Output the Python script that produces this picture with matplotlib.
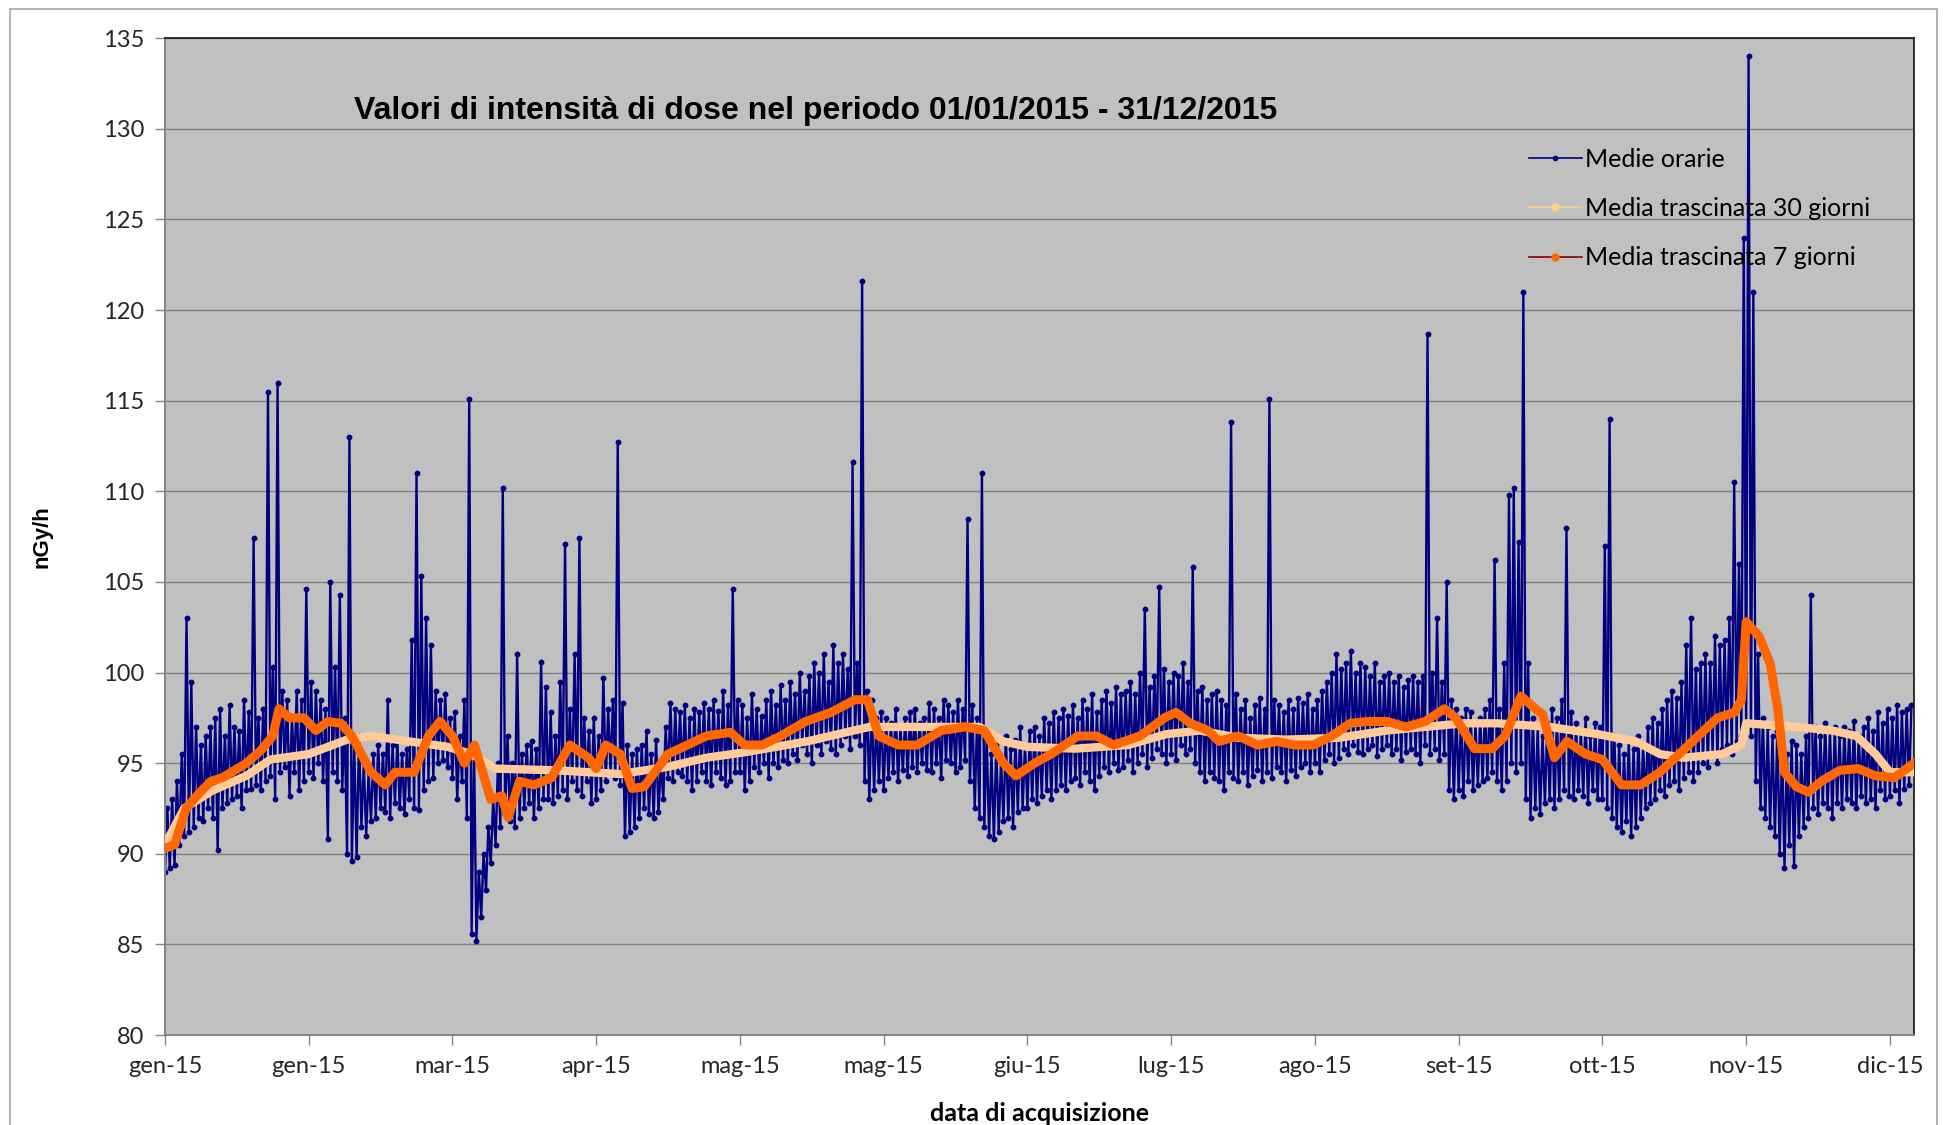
import numpy as np
import matplotlib
matplotlib.use("Agg")
import matplotlib.pyplot as plt
from matplotlib.lines import Line2D
from matplotlib.patches import Rectangle

# hourly averages, summarised per day as (lowest, highest) values, day 0 = 01/01/2015
daily_low = [
    89.0, 89.2, 89.4, 90.5, 91.0, 91.2, 91.5, 92.0, 91.8, 92.5,
    92.0, 90.2, 92.5, 92.8, 93.0, 93.2, 92.5, 93.5, 93.6, 93.8,
    93.5, 94.0, 94.3, 93.0, 94.5, 94.8, 93.2, 94.5, 93.5, 94.0,
    94.5, 94.2, 95.0, 94.0, 90.8, 94.5, 94.0, 93.5, 90.0, 89.6,
    89.8, 91.5, 91.0, 91.8, 92.0, 92.5, 92.3, 92.0, 92.8, 92.5,
    92.2, 93.0, 92.5, 92.4, 93.5, 94.0, 94.2, 95.0, 95.2, 94.8,
    94.2, 93.0, 94.0, 92.0, 85.6, 85.2, 86.5, 88.0, 89.5, 90.5,
    91.5, 92.2, 91.8, 91.5, 92.0, 92.5, 92.8, 92.0, 92.5, 93.0,
    93.0, 92.8, 93.2, 93.5, 93.0, 94.0, 93.5, 93.2, 94.0, 92.8,
    93.0, 93.5, 94.0, 94.5, 94.2, 93.8, 91.0, 91.2, 91.5, 92.0,
    92.5, 92.2, 92.0, 92.3, 93.0, 94.2, 94.0, 94.5, 94.3, 94.0,
    93.5, 94.0, 94.5, 94.0, 93.8, 94.5, 94.2, 93.8, 94.0, 94.5,
    94.5, 93.5, 94.0, 94.8, 94.5, 95.0, 94.2, 95.0, 94.8, 95.2,
    95.0, 95.5, 95.2, 96.0, 95.5, 95.0, 96.0, 95.5, 96.2, 95.8,
    95.5, 96.0, 96.5, 95.8, 96.5, 96.0, 94.0, 93.0, 93.5, 94.0,
    93.5, 94.2, 94.5, 94.0, 94.6, 94.3, 94.8, 94.5, 95.0, 94.6,
    94.5, 95.0, 94.2, 95.2, 95.0, 94.5, 94.8, 95.2, 94.0, 92.5,
    92.0, 91.5, 91.0, 90.8, 91.2, 91.8, 92.0, 91.5, 92.3, 92.5,
    92.5, 93.0, 92.8, 93.2, 93.5, 93.0, 93.5, 93.8, 93.5, 94.0,
    94.2, 93.8, 94.5, 94.0, 93.5, 94.3, 94.8, 94.5, 95.0, 94.6,
    94.8, 95.2, 94.5, 95.0, 95.5, 94.8, 95.3, 95.8, 95.5, 95.0,
    95.5, 95.2, 96.0, 95.5, 95.8, 95.0, 94.5, 94.0, 94.5, 94.2,
    94.0, 93.5, 94.5, 94.2, 94.0, 94.5, 93.8, 94.3, 94.6, 94.0,
    94.5, 94.2, 94.8, 94.5, 94.0, 94.6, 94.3, 94.8, 95.0, 94.5,
    95.0, 94.5, 95.2, 95.5, 95.0, 95.3, 95.8, 95.5, 96.0, 95.6,
    95.5, 95.8, 96.0, 95.4, 95.8, 96.0, 95.5, 95.8, 95.2, 95.6,
    95.8, 95.5, 95.0, 96.0, 95.5, 95.8, 95.2, 95.5, 93.5, 93.0,
    93.5, 93.2, 94.0, 93.5, 93.8, 94.0, 94.2, 94.5, 94.0, 93.5,
    94.0, 95.0, 94.5, 95.0, 93.0, 92.0, 92.5, 92.2, 92.8, 93.0,
    92.5, 93.0, 93.5, 93.2, 93.0, 93.5, 93.2, 92.8, 93.5, 93.0,
    93.0, 92.5, 92.0, 91.5, 91.2, 91.8, 91.0, 91.5, 92.0, 92.5,
    92.8, 93.0, 93.5, 93.2, 93.8, 94.0, 93.5, 94.2, 94.5, 94.0,
    94.5, 95.0, 94.8, 95.5, 95.0, 95.8, 96.0, 95.5, 96.2, 96.5,
    97.0, 96.5, 94.0, 92.5, 92.0, 91.5, 91.0, 90.0, 89.2, 90.5,
    89.3, 91.0, 91.5, 92.0, 92.5, 92.2, 92.8, 92.5, 92.0, 92.8,
    92.5, 93.0, 92.8, 92.5, 93.2, 92.8, 93.0, 92.5, 93.5, 93.0,
    93.2, 93.5, 92.8, 93.6, 93.8,
]
daily_high = [
    92.5, 93.0, 94.0, 95.5, 103.0, 99.5, 97.0, 96.0, 96.5, 97.0,
    97.5, 98.0, 96.5, 98.2, 97.0, 96.8, 98.5, 97.8, 107.4, 97.5,
    98.0, 115.5, 100.3, 116.0, 99.0, 98.5, 97.5, 99.0, 98.5, 104.6,
    99.5, 99.0, 98.5, 98.0, 105.0, 100.3, 104.3, 97.5, 113.0, 96.0,
    96.5, 95.0, 94.5, 95.5, 96.0, 95.5, 98.5, 96.0, 96.3, 95.5,
    95.8, 101.8, 111.0, 105.3, 103.0, 101.5, 99.0, 98.5, 98.8, 97.5,
    97.8, 96.5, 98.5, 115.1, 96.0, 89.0, 90.0, 91.5, 93.0, 95.0,
    110.2, 96.5, 95.0, 101.0, 95.5, 96.0, 96.2, 95.8, 100.6, 99.2,
    97.8, 96.5, 99.5, 107.1, 98.0, 101.0, 107.4, 97.5, 96.8, 97.5,
    96.5, 99.7, 98.0, 98.5, 112.7, 98.3, 96.0, 95.5, 95.8, 96.0,
    96.8, 95.5, 96.3, 95.0, 97.0, 98.3, 98.0, 97.8, 98.2, 97.5,
    98.0, 97.8, 98.3, 98.0, 98.5, 97.9, 99.0, 98.2, 104.6, 98.5,
    98.2, 97.5, 98.8, 98.0, 97.6, 98.5, 99.0, 98.2, 99.3, 98.5,
    99.5, 98.8, 100.0, 99.0, 99.8, 100.5, 100.0, 101.0, 99.5, 101.5,
    100.5, 101.0, 100.2, 111.6, 100.5, 121.6, 99.0, 98.5, 97.5, 97.8,
    97.5, 97.2, 98.0, 97.0, 97.5, 97.8, 98.0, 97.2, 97.5, 98.3,
    98.0, 97.5, 98.5, 98.2, 97.8, 98.5, 98.0, 108.5, 98.2, 97.5,
    111.0, 96.5, 95.5, 96.0, 95.2, 96.5, 95.8, 96.3, 97.0, 96.0,
    96.8, 97.0, 96.5, 97.5, 97.2, 97.8, 97.5, 98.0, 97.6, 98.2,
    97.5, 98.5, 98.0, 98.8, 97.8, 98.5, 99.0, 98.3, 99.2, 98.8,
    99.0, 99.5, 98.8, 100.0, 103.5, 99.2, 99.8, 104.7, 100.2, 99.5,
    100.0, 99.8, 100.5, 99.5, 105.8, 99.0, 99.2, 98.5, 98.8, 99.0,
    98.5, 98.2, 113.8, 98.8, 98.0, 98.5, 97.5, 98.2, 98.6, 98.0,
    115.1, 98.5, 98.2, 97.8, 98.5, 98.0, 98.6, 98.3, 98.8, 98.0,
    98.5, 99.0, 99.5, 100.0, 101.0, 100.2, 100.5, 101.2, 100.0, 100.5,
    100.3, 99.8, 100.5, 99.5, 99.8, 100.0, 99.5, 99.8, 99.2, 99.6,
    99.8, 99.5, 99.8, 118.7, 100.0, 103.0, 99.5, 105.0, 98.5, 98.0,
    97.5, 98.0, 97.8, 97.2, 97.5, 98.0, 98.5, 106.2, 98.0, 100.5,
    109.8, 110.2, 107.2, 121.0, 100.5, 97.5, 97.0, 96.5, 97.2, 98.0,
    97.5, 98.5, 108.0, 97.8, 97.2, 96.8, 97.5, 96.5, 97.2, 97.0,
    107.0, 114.0, 96.5, 96.0, 95.5, 96.2, 95.8, 96.5, 96.0, 97.0,
    97.5, 97.2, 98.0, 98.5, 99.0, 98.6, 99.5, 101.5, 103.0, 100.2,
    100.5, 101.0, 100.5, 102.0, 101.5, 101.8, 103.0, 110.5, 106.0, 124.0,
    134.0, 121.0, 101.0, 97.5, 97.0, 96.5, 96.8, 96.0, 95.5, 96.2,
    96.0, 95.5, 96.5, 104.3, 97.0, 96.5, 97.2, 96.8, 97.0, 96.5,
    97.0, 96.8, 97.3, 96.5, 97.0, 97.5, 96.8, 97.8, 97.2, 98.0,
    97.5, 98.2, 97.8, 98.0, 98.2,
]

# 7-day moving average (day, value)
ma7_day = [0, 2, 4.4, 7, 9.6, 12, 17, 20, 22.5, 23.8, 26, 29, 31.5, 34, 36.7, 39,
           43, 46, 48, 52, 55, 57.4, 60, 62.5, 64.6, 68, 70.3, 71.6, 74, 77, 80.7,
           84.5, 88.4, 90, 92, 95, 97.5, 100, 105, 109, 113, 118, 121, 124.6,
           128.5, 133.7, 139, 144, 146.6, 149, 153, 157, 162, 167, 171, 175, 177.6,
           181.5, 185, 190.5, 194.4, 198, 203.5, 208.6, 211, 214, 217.7, 220, 224,
           228, 232, 235.8, 239.7, 243.5, 247.4, 251, 255, 259, 263, 267, 269.4,
           273.3, 277, 279.7, 283, 286, 287.5, 290, 292.6, 296.5, 300, 304, 308,
           312, 316, 320, 324, 327.6, 329, 330, 332.7, 335, 336.6, 338, 340.5, 343,
           345.7, 349.5, 353.4, 357, 361, 365]
ma7_val = [90.3, 90.5, 92.5, 93.3, 94.0, 94.2, 95.0, 95.7, 96.5, 98.0, 97.5, 97.5,
           96.8, 97.3, 97.2, 96.5, 94.5, 93.8, 94.5, 94.5, 96.5, 97.3, 96.5, 95.0,
           96.0, 93.0, 93.2, 92.0, 94.0, 93.8, 94.2, 96.0, 95.3, 94.7, 96.0, 95.5,
           93.6, 93.7, 95.5, 96.0, 96.5, 96.7, 96.0, 96.0, 96.5, 97.3, 97.8, 98.5,
           98.5, 96.5, 96.0, 96.0, 96.8, 97.0, 96.8, 95.0, 94.3, 95.0, 95.5, 96.5,
           96.5, 96.0, 96.5, 97.5, 97.8, 97.2, 96.8, 96.2, 96.5, 96.0, 96.2, 96.0,
           96.0, 96.5, 97.2, 97.3, 97.3, 97.0, 97.3, 98.0, 97.5, 95.8, 95.8, 96.5,
           98.7, 98.0, 97.7, 95.3, 96.2, 95.5, 95.2, 93.8, 93.8, 94.5, 95.5, 96.5,
           97.5, 97.8, 98.5, 102.8, 102.0, 100.5, 98.0, 94.5, 93.7, 93.4, 94.0,
           94.6, 94.7, 94.3, 94.2, 95.0]

# 30-day moving average (day, value)
ma30_day = [0, 4, 10, 17, 22, 30, 33, 38, 43, 51, 59, 64, 69, 82, 95, 105, 113, 121,
            134, 147, 160, 170, 175, 180, 190, 201, 209, 216, 224, 234, 245, 255,
            263, 271, 278, 289, 299, 307, 312, 317, 325, 329, 330, 340.5, 348, 353,
            357, 360, 365]
ma30_val = [90.5, 92.5, 93.5, 94.3, 95.2, 95.5, 95.8, 96.3, 96.5, 96.2, 95.9, 95.5,
            94.7, 94.6, 94.4, 94.8, 95.3, 95.6, 96.2, 97.0, 97.0, 97.0, 96.2, 95.9,
            95.8, 96.0, 96.6, 96.8, 96.4, 96.3, 96.4, 96.8, 97.0, 97.2, 97.2, 97.0,
            96.6, 96.2, 95.5, 95.3, 95.5, 96.0, 97.2, 97.0, 96.8, 96.5, 95.5, 94.5,
            94.5]

tick_days = [0, 30, 60, 90, 120, 150, 180, 210, 240, 270, 300, 330, 360]
tick_labels = ["gen-15", "gen-15", "mar-15", "apr-15", "mag-15", "mag-15", "giu-15",
               "lug-15", "ago-15", "set-15", "ott-15", "nov-15", "dic-15"]

navy = "#000080"
peach = "#FFCC99"
orange = "#FF6600"

fig = plt.figure(figsize=(19.43, 11.25), dpi=100)
fig.patches.append(Rectangle((0.005, -0.01), 0.992, 1.002, transform=fig.transFigure,
                             fill=False, edgecolor="#A6A6A6", linewidth=1.2))
ax = fig.add_axes([0.0849, 0.08, 0.9001, 0.886])
ax.set_facecolor("#C0C0C0")

days = np.arange(len(daily_low))
hx = np.column_stack([days, days + 0.5]).ravel()
hy = np.column_stack([daily_low, daily_high]).ravel()
ax.plot(hx, hy, color=navy, lw=1.7, marker="o", ms=3.2, mec=navy, zorder=2)
ax.plot(ma30_day, ma30_val, color=peach, lw=6, solid_joinstyle="round", zorder=3)
ax.plot(ma7_day, ma7_val, color=orange, lw=6.5, solid_joinstyle="round", zorder=4)

ax.set_xlim(0, 365)
ax.set_ylim(80, 135)
ax.set_yticks(np.arange(80, 136, 5))
ax.set_xticks(tick_days)
ax.set_xticklabels(tick_labels)
ax.grid(axis="y", color="#808080", lw=1.0)
ax.set_axisbelow(True)

for s in ["left", "bottom"]:
    ax.spines[s].set_color("#868686")
    ax.spines[s].set_linewidth(1.5)
for s in ["top", "right"]:
    ax.spines[s].set_color("#222222")
    ax.spines[s].set_linewidth(1.3)

ax.tick_params(axis="both", direction="out", length=7, width=1, color="#868686",
               labelsize=17, labelcolor="#262626", pad=8)
for lab in ax.get_xticklabels() + ax.get_yticklabels():
    lab.set_family("Lato")

ax.set_ylabel("nGy/h", fontsize=16, fontweight="bold", family="Liberation Sans",
              labelpad=36)
ax.set_xlabel("data di acquisizione", fontsize=18, fontweight="bold", family="Lato",
              labelpad=18)
ax.text(0.108, 0.927, "Valori di intensità di dose nel periodo 01/01/2015 - 31/12/2015",
        transform=ax.transAxes, fontsize=23, fontweight="bold", family="Liberation Sans",
        va="center", ha="left")

handles = [
    Line2D([], [], color=navy, lw=1.2, marker="o", ms=3),
    Line2D([], [], color=peach, lw=1.2, marker="o", ms=5, mfc="#FFD27F", mec="#FFD27F"),
    Line2D([], [], color="#8B0000", lw=1.2, marker="o", ms=5, mfc=orange, mec=orange),
]
ax.legend(handles, ["Medie orarie", "Media trascinata 30 giorni", "Media trascinata 7 giorni"],
          loc="upper left", bbox_to_anchor=(0.78, 0.89), frameon=False,
          prop={"family": "Lato", "size": 18}, handlelength=2.1, handletextpad=0.15,
          labelspacing=1.05, borderpad=0, borderaxespad=0)

fig.savefig("out.png", dpi=100)
